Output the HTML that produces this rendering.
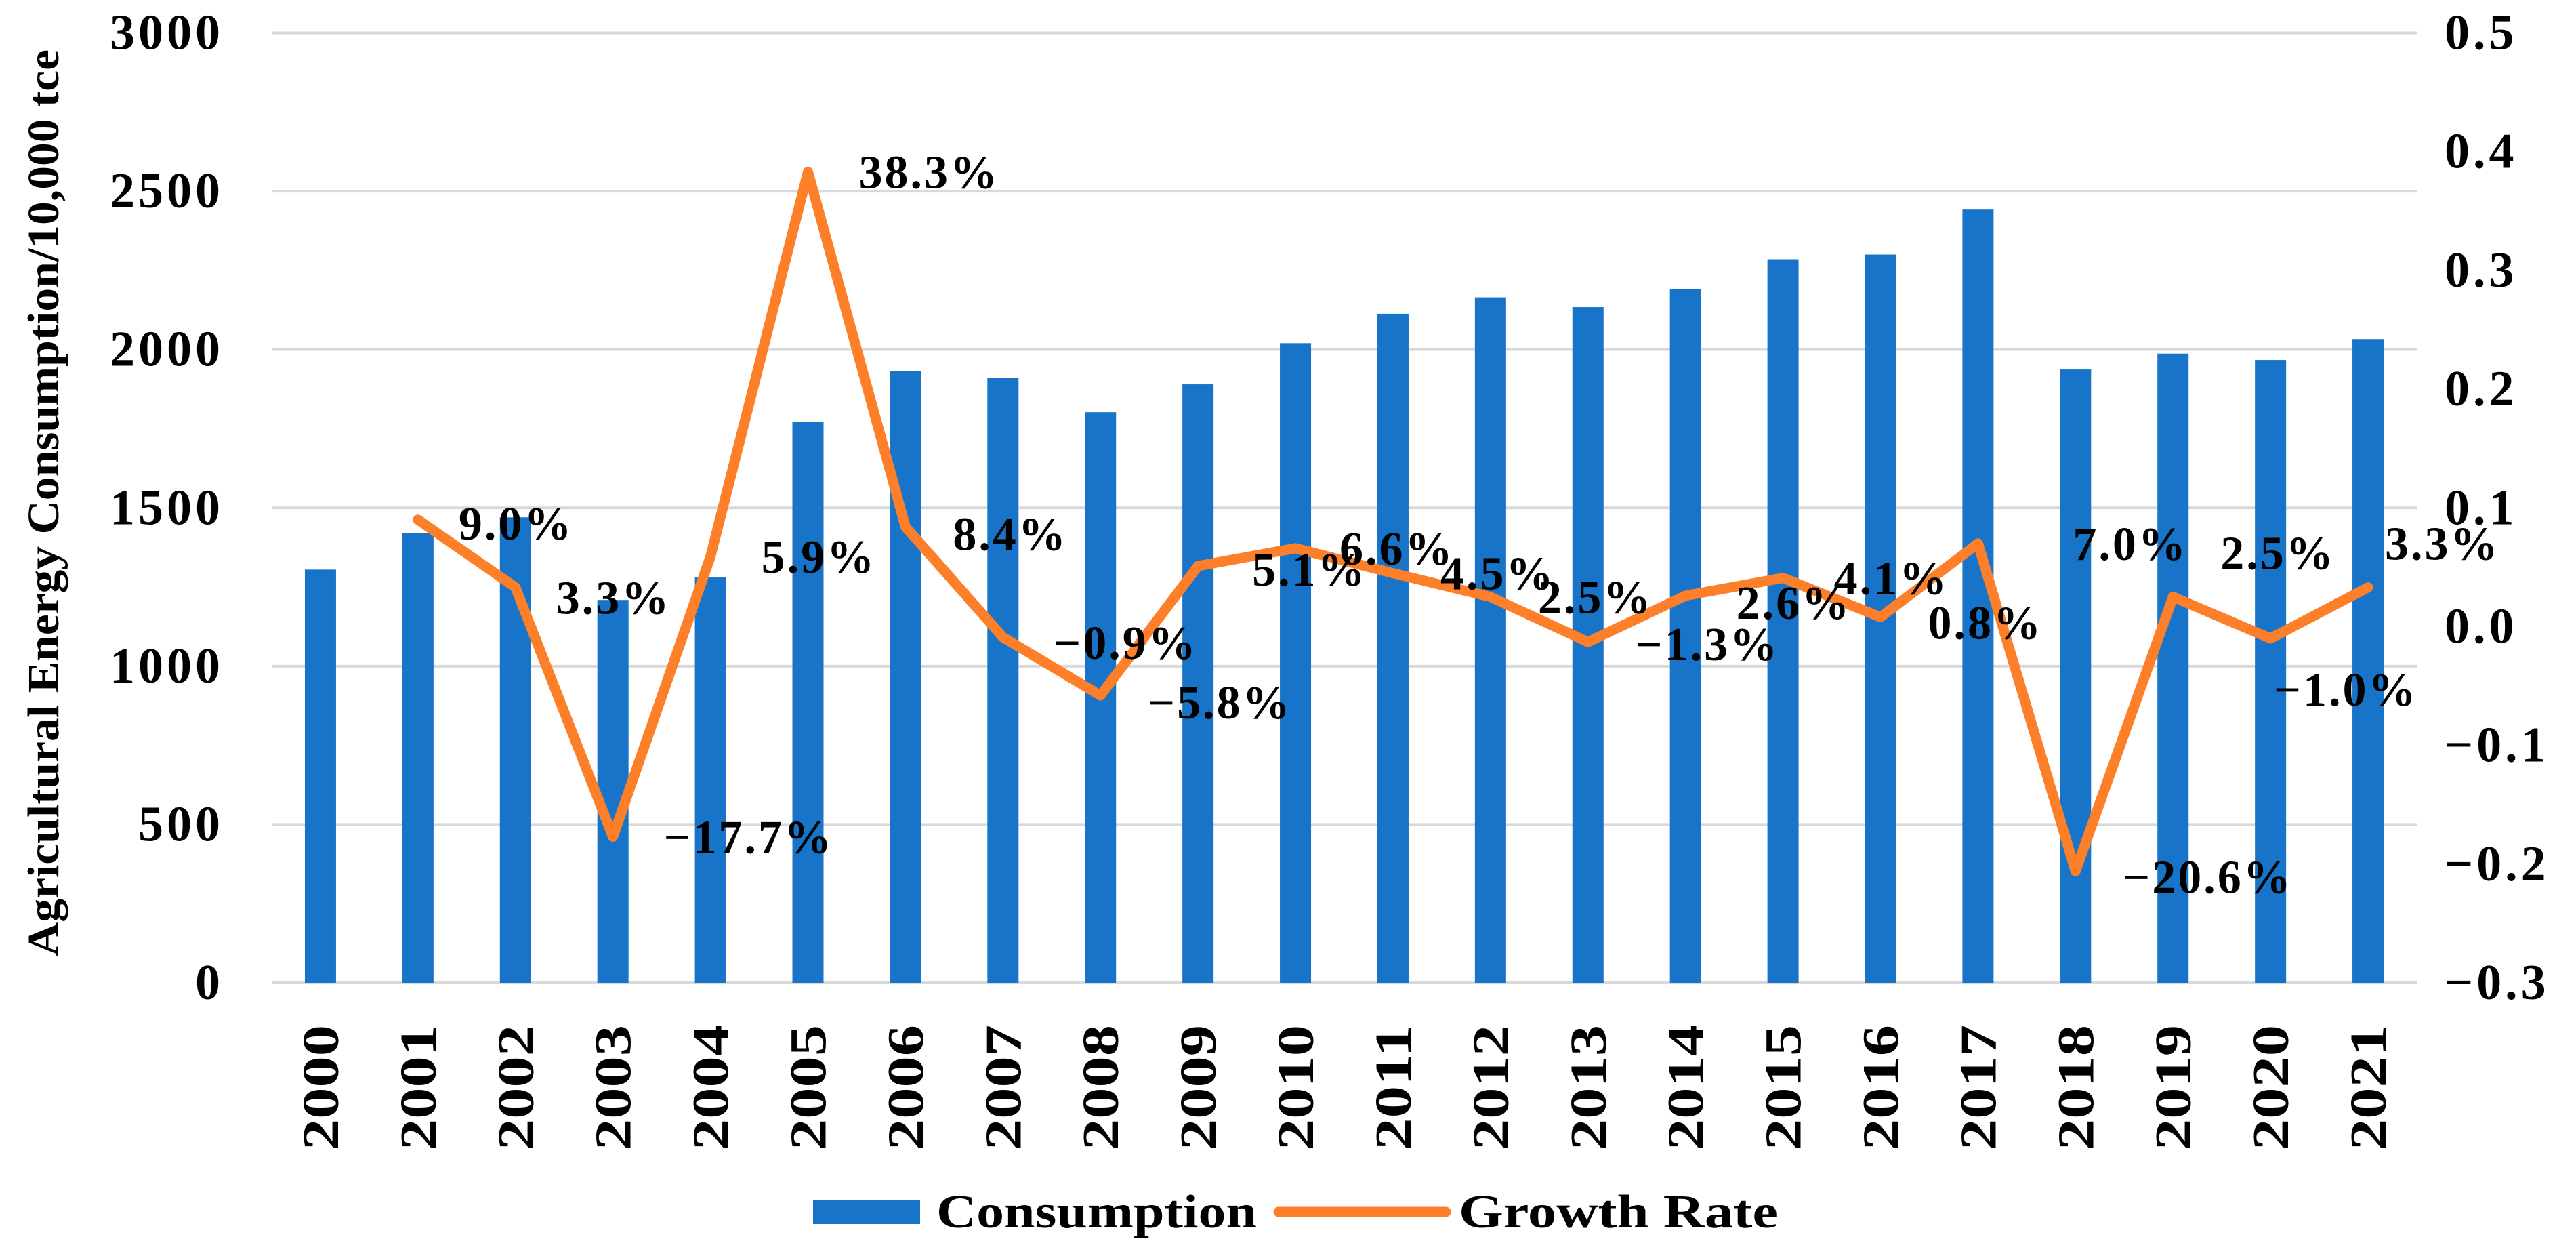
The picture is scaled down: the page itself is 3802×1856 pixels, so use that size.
<!DOCTYPE html>
<html><head><meta charset="utf-8"><style>
html,body{margin:0;padding:0;background:#fff;}
svg{display:block;font-family:"Liberation Serif",serif;font-weight:bold;}
</style></head><body>
<svg id="chart" width="3802" height="1856" viewBox="0 0 3802 1856" xmlns="http://www.w3.org/2000/svg">
<g id="grid"></g>
<g id="bars"></g>
<g id="line"></g>
<g id="labels"></g>
<g id="ly"></g>
<g id="ry"></g>
<g id="xa"></g>
<text transform="translate(86,742) rotate(-90)" text-anchor="middle" font-size="66" textLength="1338" lengthAdjust="spacingAndGlyphs">Agricultural Energy Consumption/10,000 tce</text>
<g>
<rect x="1200" y="1770" width="158" height="36" fill="#1874c9"/>
<text x="1382" y="1811" font-size="70" textLength="473" lengthAdjust="spacingAndGlyphs">Consumption</text>
<line x1="1887" y1="1788" x2="2134" y2="1788" stroke="#fd7f2a" stroke-width="15" stroke-linecap="round"/>
<text x="2153" y="1811" font-size="70" textLength="471" lengthAdjust="spacingAndGlyphs">Growth Rate</text>
</g>
</svg>
<script>
const years = ["2000","2001","2002","2003","2004","2005","2006","2007","2008","2009","2010","2011","2012","2013","2014","2015","2016","2017","2018","2019","2020","2021"];
const consumption = [1305,1421,1470,1209,1280,1771,1931,1911,1802,1890,2020,2113,2165,2134,2191,2285,2300,2442,1937,1987,1967,2033];
const growth = [null,0.090,0.033,-0.177,0.059,0.383,0.084,-0.009,-0.058,0.051,0.066,0.045,0.025,-0.013,0.026,0.041,0.008,0.070,-0.206,0.025,-0.010,0.033];
const growthLabels = ["","9.0%","3.3%","\u221217.7%","5.9%","38.3%","8.4%","\u22120.9%","\u22125.8%","5.1%","6.6%","4.5%","2.5%","\u22121.3%","2.6%","4.1%","0.8%","7.0%","\u221220.6%","2.5%","\u22121.0%","3.3%"];
const leftTicks = [0,500,1000,1500,2000,2500,3000];
const rightTicks = [0.5,0.4,0.3,0.2,0.1,0.0,-0.1,-0.2,-0.3];
const rightTickLabels = ["0.5","0.4","0.3","0.2","0.1","0.0","\u22120.1","\u22120.2","\u22120.3"];
// label style offsets (pixels, styling only)
const labelDx = [0,60,60,75,75,75,70,75,70,80,65,70,70,70,75,75,70,140,70,70,5,25];
const labelDy = [0,5,15,0,0,0,10,8,10,5,0,0,0,3,10,0,8,0,8,-65,75,-65];

const NS="http://www.w3.org/2000/svg";
const L=401,R=3567,T=48.5,B=1450;
const cw=(R-L)/years.length;
const xC=i=>L+cw*(i+0.5);
const yL=v=>B-(v/3000)*(B-T);
const yR=v=>B-((v+0.3)/0.8)*(B-T);
function mk(tag,attrs,parent){const e=document.createElementNS(NS,tag);for(const k in attrs)e.setAttribute(k,attrs[k]);parent.appendChild(e);return e;}
const g=id=>document.getElementById(id);

leftTicks.forEach((t,i)=>{
  const ln=mk('line',{x1:L,x2:R,y1:yL(t),y2:yL(t),stroke:'#d9d9d9','stroke-width':4},g('grid'));
  
  
  const tx=mk('text',{x:330,y:yL(t)+24,'text-anchor':'end','font-size':74,'letter-spacing':5},g('ly'));
  tx.textContent=t;
  
  
});
rightTicks.forEach((t,i)=>{
  const tx=mk('text',{x:3608,y:yR(t)+24,'font-size':74,'letter-spacing':5},g('ry'));
  tx.textContent=rightTickLabels[i];
  
  
});
const bw=46;
consumption.forEach((v,i)=>{
  const r=mk('rect',{x:xC(i)-bw/2,y:yL(v),width:bw,height:B-yL(v),fill:'#1874c9'},g('bars'));
  
  
  const tx=mk('text',{transform:`translate(${xC(i)+26},1512) rotate(-90)`,'text-anchor':'end','font-size':76,textLength:185,lengthAdjust:'spacingAndGlyphs'},g('xa'));
  tx.textContent=years[i];
  
  
});
let pts=[];
growth.forEach((v,i)=>{ if(v!==null) pts.push(xC(i)+','+yR(v)); });
const pl=mk('polyline',{points:pts.join(' '),fill:'none',stroke:'#fd7f2a','stroke-width':15,'stroke-linejoin':'round','stroke-linecap':'round'},g('line'));


growth.forEach((v,i)=>{
  if(v===null) return;
  const tx=mk('text',{x:xC(i)+labelDx[i],y:yR(v)+labelDy[i]+24,'font-size':70,'letter-spacing':3},g('labels'));
  tx.textContent=growthLabels[i];
  
  
});
</script>
</body></html>
